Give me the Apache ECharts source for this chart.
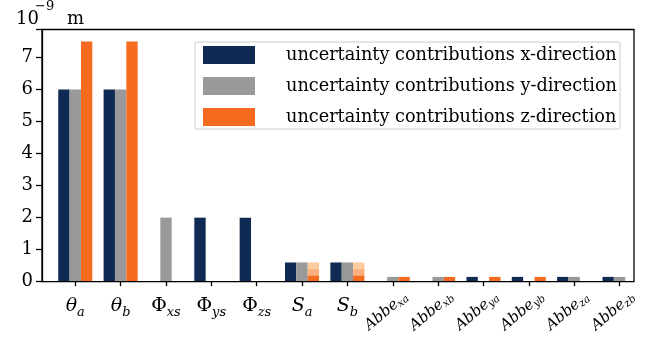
<!DOCTYPE html>
<html><head><meta charset="utf-8">
<script src="https://cdn.jsdelivr.net/npm/echarts@6/dist/echarts.min.js"></script>
<style>html,body{margin:0;padding:0;background:#fff}#c{width:646px;height:339px}</style>
</head><body><div id="c"></div>
<script>
const categories = ['theta_a','theta_b','Phi_xs','Phi_ys','Phi_zs','S_a','S_b','Abbe_xa','Abbe_xb','Abbe_ya','Abbe_yb','Abbe_za','Abbe_zb'];
const labelMain = ['θ','θ','Φ','Φ','Φ','S','S','Abbe','Abbe','Abbe','Abbe','Abbe','Abbe'];
const labelSub  = ['a','b','xs','ys','zs','a','b','xa','xb','ya','yb','za','zb'];
const xValues = [6, 6, 0, 2, 2, 0.6, 0.6, 0, 0, 0.15, 0.15, 0.15, 0.15];
const yValues = [6, 6, 2, 0, 0, 0.6, 0.6, 0.15, 0.15, 0, 0, 0.15, 0.15];
const zValues = [7.5, 7.5, 0, 0, 0, 0.2, 0.2, 0.15, 0.15, 0.15, 0.15, 0, 0];
const zValuesMid = [0, 0, 0, 0, 0, 0.2, 0.2, 0, 0, 0, 0, 0, 0];
const zValuesTop = [0, 0, 0, 0, 0, 0.2, 0.2, 0, 0, 0, 0, 0, 0];
const yTicks = [0,1,2,3,4,5,6,7];
const seriesNames = ['uncertainty contributions x-direction','uncertainty contributions y-direction','uncertainty contributions z-direction'];

const NAVY = '#0f2a53', GRAY = '#999999', ORANGE = '#f46a1e', ORANGE_MID = '#fab07c', ORANGE_LIGHT = '#fdcb9e';
const SERIF = 'DejaVu Serif';
const YMAX = 7.875;
const BW = 11.35;
const ROTATED_FROM = 7;
const ROT_DEG = 40;

const chart = echarts.init(document.getElementById('c'), null, {renderer:'canvas'});
const richLab = {
  v:{fontFamily:SERIF, fontStyle:'italic', fontSize:19, color:'#000', lineHeight:26, verticalAlign:'middle'},
  u:{fontFamily:SERIF, fontStyle:'normal', fontSize:19, color:'#000', lineHeight:26, verticalAlign:'middle'},
  s:{fontFamily:SERIF, fontStyle:'italic', fontSize:13, color:'#000', lineHeight:26, verticalAlign:'bottom'}
};
function lab(i){
  const m = labelMain[i];
  const tag = (m === 'Φ') ? 'u' : 'v';
  return '{' + tag + '|' + m + '}{s|' + labelSub[i] + '}';
}
const titleGraphics = [
  {type:'text', left:16, top:10.5, style:{text:'10', font:'18px "DejaVu Serif"', fill:'#000'}},
  {type:'text', left:35, top:0.5, style:{text:'−9', font:'13px "DejaVu Serif"', fill:'#000'}},
  {type:'text', left:67, top:10.5, style:{text:'m', font:'18px "DejaVu Serif"', fill:'#000'}}
];

const option = {
  animation:false,
  backgroundColor:'#fff',
  grid:[
    {left:52.6, right:3.8, top:29.5, bottom:57.3, show:false},
    {left:42, right:12, top:29.5, bottom:57.3, show:true, borderColor:'#000', borderWidth:1.3, backgroundColor:'transparent', z:5}
  ],
  xAxis:[
    {type:'category', gridIndex:0, data:categories, axisLine:{show:false},
     axisTick:{show:true, alignWithLabel:true, length:4.5, lineStyle:{color:'#000', width:1.3}},
     axisLabel:{interval:0, margin:11, formatter:(v,i)=> i<ROTATED_FROM ? lab(i) : '', rich:richLab}},
    {type:'value', gridIndex:1, show:false, min:0, max:1}
  ],
  yAxis:[
    {type:'value', gridIndex:0, min:0, max:YMAX, show:false},
    {type:'value', gridIndex:1, min:0, max:YMAX, interval:1,
     axisLine:{show:true, lineStyle:{color:'#000', width:1.3}},
     axisTick:{show:true, length:6, lineStyle:{color:'#000', width:1.3}},
     splitLine:{show:false},
     axisLabel:{margin:9, fontFamily:SERIF, fontSize:18, color:'#000',
       formatter:(v)=> yTicks.indexOf(v) >= 0 ? String(v) : ''}}
  ],
  legend:{
    orient:'vertical', left:195, top:42, itemWidth:52, itemHeight:18, itemGap:13,
    padding:[4,3,3,8], backgroundColor:'#fff', borderColor:'#cccccc', borderWidth:1, borderRadius:2,
    icon:'rect', data:seriesNames,
    textStyle:{fontFamily:SERIF, fontSize:17.7, color:'#000', padding:[0,0,0,26]}
  },
  series:[
    {name:seriesNames[0], type:'bar', xAxisIndex:0, yAxisIndex:0, data:xValues, barWidth:BW, barGap:'0%', itemStyle:{color:NAVY}},
    {name:seriesNames[1], type:'bar', xAxisIndex:0, yAxisIndex:0, data:yValues, barWidth:BW, barGap:'0%', itemStyle:{color:GRAY}},
    {name:seriesNames[2], type:'bar', xAxisIndex:0, yAxisIndex:0, data:zValues, barWidth:BW, barGap:'0%', stack:'z', itemStyle:{color:ORANGE}},
    {name:'z-mid', type:'bar', xAxisIndex:0, yAxisIndex:0, data:zValuesMid, barWidth:BW, barGap:'0%', stack:'z', itemStyle:{color:ORANGE_MID}},
    {name:'z-top', type:'bar', xAxisIndex:0, yAxisIndex:0, data:zValuesTop, barWidth:BW, barGap:'0%', stack:'z', itemStyle:{color:ORANGE_LIGHT}}
  ],
  graphic:titleGraphics
};
chart.setOption(option);

// rotated category labels, anchored through the axis scale
const ctx = document.createElement('canvas').getContext('2d');
function tw(t, f){ ctx.font = f; return ctx.measureText(t).width; }
const FM = 'italic 15px "DejaVu Serif"', FS = 'italic 10.5px "DejaVu Serif"';
const rotGraphics = [];
for (let i = ROTATED_FROM; i < categories.length; i++) {
  const p = chart.convertToPixel({xAxisIndex:0, yAxisIndex:0}, [categories[i], 0]);
  const wm = tw(labelMain[i], FM), ws = tw(labelSub[i], FS);
  const W = wm + ws;
  rotGraphics.push({
    type:'group', x:p[0] - 6.5, y:p[1] + 29.5, rotation: ROT_DEG * Math.PI / 180,
    children:[
      {type:'text', x:-W/2, y:0, style:{text:labelMain[i], font:FM, fill:'#000', align:'left', verticalAlign:'middle'}},
      {type:'text', x:-W/2 + wm, y:3.5, style:{text:labelSub[i], font:FS, fill:'#000', align:'left', verticalAlign:'middle'}}
    ]
  });
}
chart.setOption({graphic: titleGraphics.concat(rotGraphics)});
</script></body></html>
